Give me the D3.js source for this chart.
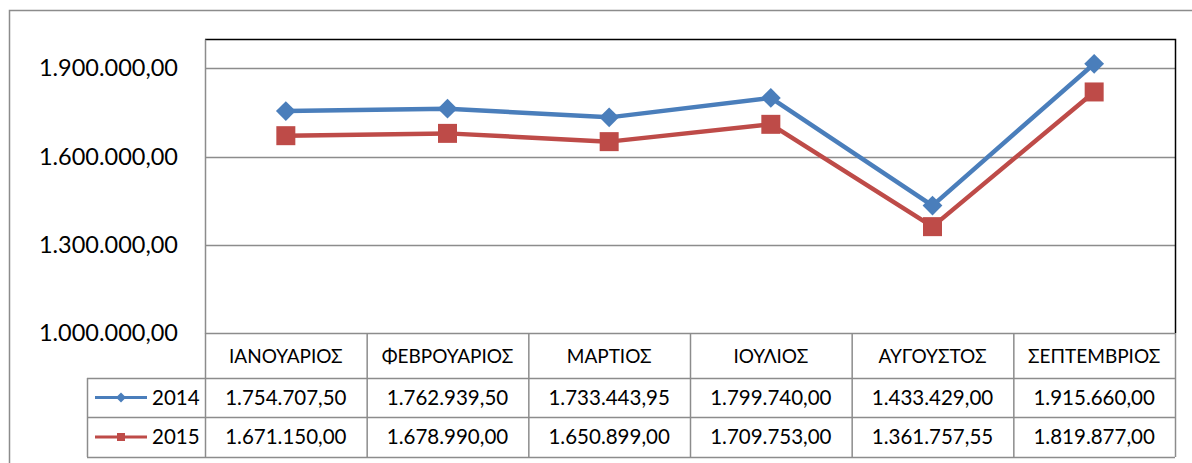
<!DOCTYPE html>
<html>
<head>
<meta charset="utf-8">
<script src="https://cdn.jsdelivr.net/npm/d3@7"></script>
<style>
  body { margin: 0; background: #fff; }
  svg { display: block; font-family: Lato, "Open Sans", sans-serif; }
</style>
</head>
<body>
<script>
// months, series and tick values
var months = ["ΙΑΝΟΥΑΡΙΟΣ", "ΦΕΒΡΟΥΑΡΙΟΣ", "ΜΑΡΤΙΟΣ", "ΙΟΥΛΙΟΣ", "ΑΥΓΟΥΣΤΟΣ", "ΣΕΠΤΕΜΒΡΙΟΣ"];
var years = ["2014", "2015"];
var values2014 = [1754707.50, 1762939.50, 1733443.95, 1799740.00, 1433429.00, 1915660.00];
var values2015 = [1671150.00, 1678990.00, 1650899.00, 1709753.00, 1361757.55, 1819877.00];
var yTicks = [1000000, 1300000, 1600000, 1900000];

var colors = ["#4A7EBB", "#BE4B48"];
var series = [values2014, values2015];

var width = 1192, height = 463;
var plot = {left: 205, top: 39, right: 1175, bottom: 333};
var rowH = [45, 39, 40];   // header row, 2014 row, 2015 row
var legendLeft = 87;

// greek style number: 1.754.707,50
var fmt = d3.formatLocale({decimal: ",", thousands: ".", grouping: [3], currency: ["", "€"]}).format(",.2f");

var svg = d3.select("body").append("svg")
  .attr("width", width)
  .attr("height", height);

// outer chart frame (cut off on the right and bottom)
svg.append("rect")
  .attr("x", 9.5).attr("y", 10.5)
  .attr("width", width + 20).attr("height", height + 20)
  .attr("fill", "none")
  .attr("stroke", "#8c8c8c")
  .attr("stroke-width", 1.5);

var x = d3.scaleBand()
  .domain(months)
  .range([plot.left, plot.right]);

var y = d3.scaleLinear()
  .domain([1000000, 2000000])
  .range([plot.bottom, plot.top]);

// gridlines
svg.append("g")
  .selectAll("line")
  .data(yTicks.slice(1))
  .enter().append("line")
  .attr("x1", plot.left).attr("x2", plot.right)
  .attr("y1", function(d) { return Math.round(y(d)) + 0.5; })
  .attr("y2", function(d) { return Math.round(y(d)) + 0.5; })
  .attr("stroke", "#8c8c8c")
  .attr("stroke-width", 1.5);

// plot area border: black top and right, grey left
svg.append("path")
  .attr("d", "M" + plot.left + "," + (plot.top + 0.5) + "H" + (plot.right + 0.5) + "V" + plot.bottom)
  .attr("fill", "none").attr("stroke", "#000").attr("stroke-width", 1.5);

// y axis labels
var yAxis = d3.axisLeft(y)
  .tickValues(yTicks)
  .tickSize(0)
  .tickPadding(27)
  .tickFormat(fmt);

svg.append("g")
  .attr("transform", "translate(" + plot.left + ",0)")
  .call(yAxis)
  .call(function(g) { g.select(".domain").attr("stroke", "#8c8c8c").attr("stroke-width", 1.5); })
  .selectAll("text")
  .attr("font-family", "Lato, 'Open Sans', sans-serif")
  .attr("font-size", 23.5)
  .attr("fill", "#000");

// data table
var tableTop = plot.bottom;
var rowTops = [tableTop, tableTop + rowH[0], tableTop + rowH[0] + rowH[1]];
var tableBottom = rowTops[2] + rowH[2];
var grid = svg.append("g")
  .attr("stroke", "#8c8c8c")
  .attr("stroke-width", 1.5)
  .attr("fill", "none");

// horizontal lines
grid.append("line").attr("x1", plot.left).attr("x2", plot.right).attr("y1", rowTops[0] + 0.5).attr("y2", rowTops[0] + 0.5);
[rowTops[1], rowTops[2], tableBottom].forEach(function(yy) {
  grid.append("line").attr("x1", legendLeft).attr("x2", plot.right).attr("y1", yy + 0.5).attr("y2", yy + 0.5);
});
// vertical lines
grid.append("line").attr("x1", legendLeft + 0.5).attr("x2", legendLeft + 0.5).attr("y1", rowTops[1]).attr("y2", tableBottom);
grid.selectAll(".col")
  .data(months.concat(["end"]))
  .enter().append("line")
  .attr("x1", function(d, i) { return i < months.length ? x(d) + 0.5 : plot.right + 0.5; })
  .attr("x2", function(d, i) { return i < months.length ? x(d) + 0.5 : plot.right + 0.5; })
  .attr("y1", tableTop)
  .attr("y2", tableBottom);

// header labels
svg.append("g")
  .selectAll("text")
  .data(months)
  .enter().append("text")
  .attr("x", function(d) { return x(d) + x.bandwidth() / 2; })
  .attr("y", rowTops[0] + rowH[0] / 2 + 7)
  .attr("text-anchor", "middle")
  .attr("font-size", 19)
  .text(function(d) { return d; });

// value rows with legend keys
series.forEach(function(vals, s) {
  var rt = rowTops[s + 1], mid = rt + rowH[s + 1] / 2;
  var row = svg.append("g");
  row.selectAll("text")
    .data(vals)
    .enter().append("text")
    .attr("x", function(d, i) { return x(months[i]) + x.bandwidth() / 2; })
    .attr("y", mid + 7)
    .attr("text-anchor", "middle")
    .attr("font-size", 20.5)
    .text(function(d) { return fmt(d); });

  row.append("line")
    .attr("x1", 95).attr("x2", 147)
    .attr("y1", mid).attr("y2", mid)
    .attr("stroke", colors[s]).attr("stroke-width", 3);
  row.append("path")
    .attr("d", d3.symbol(d3.symbolSquare, s === 0 ? 50 : 64)())
    .attr("transform", "translate(121," + mid + ")" + (s === 0 ? " rotate(45)" : ""))
    .attr("fill", colors[s]);
  row.append("text")
    .attr("x", 152).attr("y", mid + 7)
    .attr("font-size", 20.5)
    .text(years[s]);
});

// lines and markers
var line = d3.line()
  .x(function(d, i) { return x(months[i]) + x.bandwidth() / 2; })
  .y(function(d) { return y(d); });

series.forEach(function(vals, s) {
  svg.append("path")
    .datum(vals)
    .attr("d", line)
    .attr("fill", "none")
    .attr("stroke", colors[s])
    .attr("stroke-width", 4.5)
    .attr("stroke-linejoin", "round");

  svg.append("g")
    .selectAll("path")
    .data(vals)
    .enter().append("path")
    .attr("d", d3.symbol(d3.symbolSquare, s === 0 ? 196 : 361)())
    .attr("transform", function(d, i) {
      var t = "translate(" + (x(months[i]) + x.bandwidth() / 2) + "," + y(d) + ")";
      return s === 0 ? t + " rotate(45)" : t;
    })
    .attr("fill", colors[s]);
});
</script>
</body>
</html>
